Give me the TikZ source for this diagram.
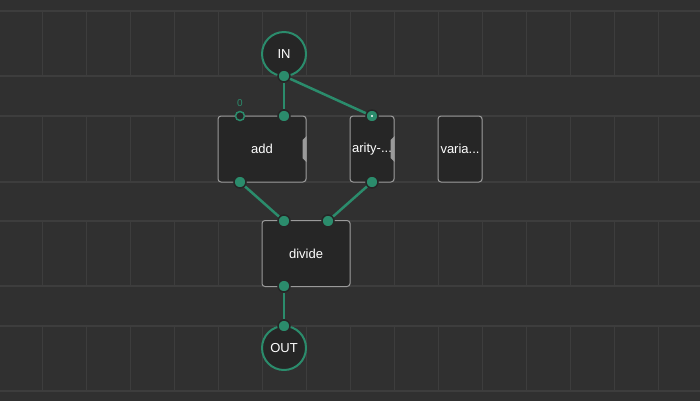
\documentclass[tikz,border=0pt]{standalone}
\usepackage{fontspec}
\setmainfont{Liberation Sans}
\usetikzlibrary{positioning}
\definecolor{canvas}{HTML}{303030}
\definecolor{gridline}{HTML}{3D3D3D}
\definecolor{nodebg}{HTML}{262626}
\definecolor{nodeline}{HTML}{9A9A9A}
\definecolor{linkgreen}{HTML}{2B8C6C}
\tikzset{
    patch/.style={
        draw=nodeline,
        fill=nodebg,
        rounded corners=3pt,
        line width=1pt,
        minimum height=66pt,
        inner sep=0pt,
        text=white,
        font=\fontsize{13}{15}\selectfont
    },
    terminal/.style={
        draw=linkgreen,
        fill=nodebg,
        circle,
        line width=2pt,
        minimum size=44pt,
        inner sep=0pt,
        text=white,
        font=\fontsize{13}{15}\selectfont
    },
    pin/.style={
        circle,
        fill=linkgreen,
        draw=nodebg,
        line width=1.5pt,
        minimum size=12pt,
        inner sep=0pt
    },
    openpin/.style={
        circle,
        fill=nodebg,
        draw=linkgreen,
        line width=1.5pt,
        minimum size=9pt,
        inner sep=0pt
    },
    link/.style={
        draw=linkgreen,
        line width=2.5pt
    },
    tab/.style={
        fill=nodeline
    }
}

\begin{document}
\begin{tikzpicture}[x=1pt, y=-1pt]
  \useasboundingbox (0,0) rectangle (700,400);
  % Background and grid bands
  \fill[canvas] (-2,-2) rectangle (702,402);
  \foreach \y in {11,76,116,182,221,286,326,391}
    \draw[gridline, line width=1.2pt] (-2,\y) -- (702,\y);
  \foreach \top/\bot in {11/76,116/182,221/286,326/391}
    \foreach \k in {0,...,14}
      \draw[gridline, line width=1pt] (42+44*\k,\top) -- (42+44*\k,\bot);

  % Patch nodes
  \node[terminal] (in) at (284,54) {IN};
  \node[patch, minimum width=88pt] (add) at (262,149) {add};
  \node[patch, minimum width=44pt] (arity) at (372,149) {arity-...};
  \node[patch, minimum width=44pt] (varia) at (460,149) {varia...};
  \node[patch, minimum width=88pt] (divide) at (306,253.5) {divide};
  \node[terminal] (out) at (284,348) {OUT};

  % Variadic tabs
  \fill[tab] ([yshift=13pt]add.east) -- ++(-4,4) -- ++(0,18) -- ++(4,4) -- cycle;
  \fill[tab] ([yshift=13pt]arity.east) -- ++(-4,4) -- ++(0,18) -- ++(4,4) -- cycle;

  % Pins
  \node[pin] (inb) at (284,76) {};
  \node[openpin] (adda) at (240,116) {};
  \node[pin] (addb) at (284,116) {};
  \node[pin] (addo) at (240,182) {};
  \node[pin] (aritya) at (372,116) {};
  \fill[white] (aritya) circle (1.2);
  \node[pin] (arityo) at (372,182) {};
  \node[pin] (diva) at (284,221) {};
  \node[pin] (divb) at (328,221) {};
  \node[pin] (divo) at (284,286) {};
  \node[pin] (outa) at (284,326) {};
  \node[linkgreen, font=\fontsize{10}{11}\selectfont] (zero) at (240,103) {0};

  % Links
  \draw[link] (inb) -- (addb);
  \draw[link] (inb) -- (aritya);
  \draw[link] (addo) -- (diva);
  \draw[link] (arityo) -- (divb);
  \draw[link] (divo) -- (outa);
\end{tikzpicture}
\end{document}
